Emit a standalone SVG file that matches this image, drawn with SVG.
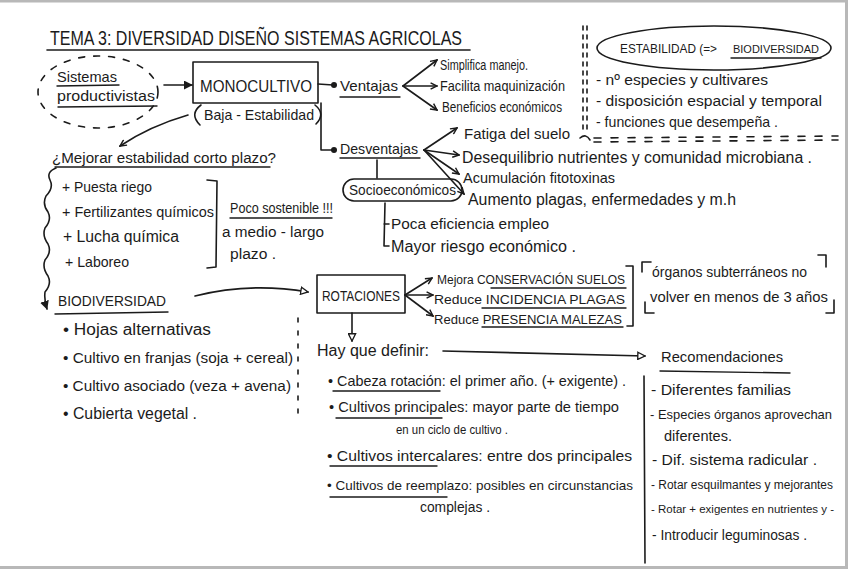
<svg xmlns="http://www.w3.org/2000/svg" width="848" height="569" viewBox="0 0 848 569" font-size="16">
<style>
.t{font-family:"Liberation Sans",Arial,sans-serif;fill:#1b1b1b}
.s{stroke:#1b1b1b;stroke-width:1.6;fill:none;stroke-linecap:round;stroke-linejoin:round}
.u{stroke:#1b1b1b;stroke-width:1.4;fill:none;stroke-linecap:round}
</style>
<defs>
<marker id="v" viewBox="0 0 10 10" refX="9" refY="5" markerWidth="8" markerHeight="8" orient="auto" markerUnits="userSpaceOnUse"><path d="M1,1 L9,5 L1,9" fill="none" stroke="#1b1b1b" stroke-width="1.8"/></marker>
<marker id="tri" viewBox="0 0 10 10" refX="9" refY="5" markerWidth="9" markerHeight="9" orient="auto" markerUnits="userSpaceOnUse"><path d="M1,1 L9,5 L1,9 Z" fill="#fff" stroke="#1b1b1b" stroke-width="1.5"/></marker>
<marker id="fil" viewBox="0 0 10 10" refX="9" refY="5" markerWidth="9" markerHeight="9" orient="auto" markerUnits="userSpaceOnUse"><path d="M0,0 L10,5 L0,10 Z" fill="#1b1b1b"/></marker>
</defs>
<rect width="848" height="569" fill="#fff"/>
<path d="M0,1 H848 M846.5,0 V569 M0,567.5 H848" stroke="#b8b8b8" stroke-width="3" fill="none"/>

<g id="title">
<text class="t" x="50" y="45" font-size="20" textLength="412" lengthAdjust="spacingAndGlyphs">TEMA 3: DIVERSIDAD DISEÑO SISTEMAS AGRICOLAS</text>
<path class="s" d="M47,50 L470,50" stroke-width="2"/>
</g>

<g id="sistemas">
<ellipse cx="98" cy="92" rx="60" ry="36" class="s" stroke-width="1.3" stroke-dasharray="6 9"/>
<text class="t" x="57" y="82" font-size="15" textLength="60" lengthAdjust="spacingAndGlyphs">Sistemas</text>
<path class="u" d="M57,86 L119,85"/>
<text class="t" x="57" y="101" font-size="15.5" textLength="98" lengthAdjust="spacingAndGlyphs">productivistas</text>
<path class="u" d="M58,107 L157,106"/>
</g>

<g id="monocultivo">
<rect x="193" y="62" width="125" height="41" class="s" stroke-width="1.8"/>
<text class="t" x="200" y="92" font-size="17" textLength="112" lengthAdjust="spacingAndGlyphs">MONOCULTIVO</text>
<path class="s" d="M201,105 Q189,114 200,125"/>
<text class="t" x="204" y="120" font-size="14.5" textLength="110" lengthAdjust="spacingAndGlyphs">Baja - Estabilidad</text>
<path class="s" d="M315,105 Q326,114 316,124"/>
</g>

<g id="ventajas">
<text class="t" x="340" y="91" font-size="15" textLength="58" lengthAdjust="spacingAndGlyphs">Ventajas</text>
<path class="u" d="M340,97 L400,97"/>
<text class="t" x="440" y="70" font-size="14" textLength="88" lengthAdjust="spacingAndGlyphs">Simplifica manejo.</text>
<text class="t" x="440" y="91" font-size="14" textLength="125" lengthAdjust="spacingAndGlyphs">Facilita maquinización</text>
<text class="t" x="442" y="112" font-size="14" textLength="120" lengthAdjust="spacingAndGlyphs">Beneficios económicos</text>
</g>

<g id="desventajas">
<text class="t" x="340" y="154" font-size="15" textLength="78" lengthAdjust="spacingAndGlyphs">Desventajas</text>
<path class="u" d="M340,158 L420,158"/>
<text class="t" x="464" y="139" font-size="15" textLength="106" lengthAdjust="spacingAndGlyphs">Fatiga del suelo</text>
<text class="t" x="462" y="163" textLength="350" lengthAdjust="spacingAndGlyphs">Desequilibrio nutrientes y comunidad microbiana .</text>
<text class="t" x="463" y="183" font-size="14.5" textLength="152" lengthAdjust="spacingAndGlyphs">Acumulación fitotoxinas</text>
<text class="t" x="468" y="205" textLength="268" lengthAdjust="spacingAndGlyphs">Aumento plagas, enfermedades y m.h</text>
</g>

<g id="socioeconomicos">
<rect x="343" y="179" width="119" height="22" rx="11" class="s" stroke-width="1.5"/>
<text class="t" x="349" y="195" font-size="14" textLength="107" lengthAdjust="spacingAndGlyphs">Socioeconómicos</text>
<path class="s" d="M385,203 L384,246 M384,224 L389,224 M384,246 L389,246" stroke-width="1.3"/>
<text class="t" x="391" y="229" font-size="15.5" textLength="158" lengthAdjust="spacingAndGlyphs">Poca eficiencia empleo</text>
<text class="t" x="391" y="252" textLength="185" lengthAdjust="spacingAndGlyphs">Mayor riesgo económico .</text>
</g>

<g id="mejorar">
<text class="t" x="52" y="163" font-size="15.5" textLength="224" lengthAdjust="spacingAndGlyphs">¿Mejorar estabilidad corto plazo?</text>
<path class="u" d="M55,167 L270,167"/>
<text class="t" x="62" y="192" font-size="14.5" textLength="90" lengthAdjust="spacingAndGlyphs">+ Puesta riego</text>
<text class="t" x="62" y="217" font-size="14.5" textLength="152" lengthAdjust="spacingAndGlyphs">+ Fertilizantes químicos</text>
<text class="t" x="63" y="242" textLength="116" lengthAdjust="spacingAndGlyphs">+ Lucha química</text>
<text class="t" x="65" y="267" font-size="14.5" textLength="64" lengthAdjust="spacingAndGlyphs">+ Laboreo</text>
<path class="s" d="M207,180 L217,181 L216,267 L207,268"/>
<text class="t" x="230" y="213" font-size="14" textLength="103" lengthAdjust="spacingAndGlyphs">Poco sostenible !!!</text>
<path class="u" d="M230,218 L332,218"/>
<text class="t" x="222" y="237" font-size="15.5" textLength="102" lengthAdjust="spacingAndGlyphs">a medio - largo</text>
<text class="t" x="230" y="259" font-size="15.5" textLength="46" lengthAdjust="spacingAndGlyphs">plazo .</text>
</g>

<g id="biodiversidad">
<text class="t" x="58" y="306" font-size="15" textLength="108" lengthAdjust="spacingAndGlyphs">BIODIVERSIDAD</text>
<path class="u" d="M55,314 L168,312"/>
<text class="t" x="63" y="335" textLength="148" lengthAdjust="spacingAndGlyphs">• Hojas alternativas</text>
<text class="t" x="63" y="363" font-size="15.3" textLength="230" lengthAdjust="spacingAndGlyphs">• Cultivo en franjas (soja + cereal)</text>
<text class="t" x="63" y="391" font-size="15.3" textLength="228" lengthAdjust="spacingAndGlyphs">• Cultivo asociado (veza + avena)</text>
<text class="t" x="63" y="419" textLength="134" lengthAdjust="spacingAndGlyphs">• Cubierta vegetal .</text>
</g>

<g id="rotaciones">
<rect x="317" y="275" width="88" height="38" class="s" stroke-width="1.8"/>
<text class="t" x="322" y="301" font-size="14" textLength="78" lengthAdjust="spacingAndGlyphs">ROTACIONES</text>
<text class="t" x="437" y="284" font-size="12.5" textLength="188" lengthAdjust="spacingAndGlyphs">Mejora CONSERVACIÓN SUELOS</text>
<path class="u" d="M491,288 L626,288"/>
<text class="t" x="434" y="304" font-size="12.5" textLength="191" lengthAdjust="spacingAndGlyphs">Reduce INCIDENCIA PLAGAS</text>
<path class="u" d="M482,308 L626,308"/>
<text class="t" x="434" y="324" font-size="12.5" textLength="188" lengthAdjust="spacingAndGlyphs">Reduce PRESENCIA MALEZAS</text>
<path class="u" d="M482,327 L623,327"/>
<path class="s" d="M626,266 L633,266 L633,326 L627,326" stroke-width="1.3"/>
</g>

<g id="organos">
<path class="s" d="M642,272 L642,262 L651,262 M818,255 L826,255 L826,267 M645,302 L645,313 L654,313 M834,300 L834,313 L826,313" stroke-width="1.3"/>
<text class="t" x="652" y="277" font-size="14" textLength="155" lengthAdjust="spacingAndGlyphs">órganos subterráneos no</text>
<text class="t" x="650" y="302" font-size="14.5" textLength="178" lengthAdjust="spacingAndGlyphs">volver en menos de 3 años</text>
</g>

<g id="definir">
<text class="t" x="317" y="356" textLength="112" lengthAdjust="spacingAndGlyphs">Hay que definir:</text>
<text class="t" x="328" y="386" font-size="14.4" textLength="298" lengthAdjust="spacingAndGlyphs">• Cabeza rotación: el primer año. (+ exigente) .</text>
<path class="u" d="M333,391 L440,391"/>
<text class="t" x="329" y="412" font-size="14.6" textLength="290" lengthAdjust="spacingAndGlyphs">• Cultivos principales: mayor parte de tiempo</text>
<path class="u" d="M336,418 L442,418"/>
<text class="t" x="396" y="434" font-size="12" textLength="112" lengthAdjust="spacingAndGlyphs">en un ciclo de cultivo .</text>
<text class="t" x="327" y="461" font-size="15.5" textLength="305" lengthAdjust="spacingAndGlyphs">• Cultivos intercalares: entre dos principales</text>
<path class="u" d="M330,466 L437,466"/>
<text class="t" x="327" y="490" font-size="13.4" textLength="306" lengthAdjust="spacingAndGlyphs">• Cultivos de reemplazo: posibles en circunstancias</text>
<path class="u" d="M330,497 L447,497"/>
<text class="t" x="420" y="512" font-size="14" textLength="70" lengthAdjust="spacingAndGlyphs">complejas .</text>
</g>

<g id="recomendaciones">
<text class="t" x="661" y="362" font-size="15" textLength="122" lengthAdjust="spacingAndGlyphs">Recomendaciones</text>
<path class="u" d="M660,371 L790,373"/>
<path class="s" d="M644,376 L645,563" stroke-width="1.4"/>
<text class="t" x="651" y="395" font-size="15.5" textLength="140" lengthAdjust="spacingAndGlyphs">- Diferentes familias</text>
<text class="t" x="650" y="419" font-size="13" textLength="182" lengthAdjust="spacingAndGlyphs">- Especies órganos aprovechan</text>
<text class="t" x="664" y="441" font-size="14.5" textLength="68" lengthAdjust="spacingAndGlyphs">diferentes.</text>
<text class="t" x="652" y="465" font-size="15.5" textLength="165" lengthAdjust="spacingAndGlyphs">- Dif. sistema radicular .</text>
<text class="t" x="651" y="489" font-size="12" textLength="182" lengthAdjust="spacingAndGlyphs">- Rotar esquilmantes y mejorantes</text>
<text class="t" x="651" y="513" font-size="11.5" textLength="183" lengthAdjust="spacingAndGlyphs">- Rotar + exigentes en nutrientes y -</text>
<text class="t" x="652" y="540" font-size="13.8" textLength="155" lengthAdjust="spacingAndGlyphs">- Introducir leguminosas .</text>
</g>

<g id="estabilidad">
<ellipse cx="714" cy="48" rx="117" ry="22" class="s" stroke-width="1.5"/>
<text class="t" x="620" y="53" font-size="12" textLength="97" lengthAdjust="spacingAndGlyphs">ESTABILIDAD (=&gt;</text>
<text class="t" x="733" y="53" font-size="11.5" textLength="86" lengthAdjust="spacingAndGlyphs">BIODIVERSIDAD</text>
<path class="u" d="M731,58 L821,58" stroke-width="2"/>
<text class="t" x="596" y="85" font-size="15.5" textLength="172" lengthAdjust="spacingAndGlyphs">- nº especies y cultivares</text>
<text class="t" x="596" y="106" font-size="15.5" textLength="226" lengthAdjust="spacingAndGlyphs">- disposición espacial y temporal</text>
<text class="t" x="596" y="127" font-size="14.5" textLength="182" lengthAdjust="spacingAndGlyphs">- funciones que desempeña .</text>
</g>

<g id="separators">
<path class="s" d="M583,26 L583,132 M587,26 L587,132" stroke-width="1.3" stroke-dasharray="4 5"/>
<path class="s" d="M580,138 Q586,133 590,140" stroke-width="1.4"/>
<path class="s" d="M594,138 L838,136 M594,142 L838,140" stroke-width="1.3" stroke-dasharray="7 10"/>
<path class="s" d="M298,318 L298,416" stroke-width="1.3" stroke-dasharray="4 9"/>
</g>

<g id="connectors">
<path class="s" d="M164,85 L192,85" stroke-width="2.2" marker-end="url(#fil)"/>
<path class="s" d="M318,84 L333,85"/>
<circle cx="334" cy="85" r="3" fill="#1b1b1b"/>
<path class="s" d="M321,103 L321,150 L333,150"/>
<circle cx="334" cy="150" r="3" fill="#1b1b1b"/>
<path class="s" d="M403,86 L437,60" marker-end="url(#v)"/>
<path class="s" d="M403,86 L437,86" marker-end="url(#v)"/>
<path class="s" d="M403,86 L437,110" marker-end="url(#v)"/>
<path class="s" d="M424,150 L457,128" marker-end="url(#v)"/>
<path class="s" d="M424,150 L459,155" marker-end="url(#v)"/>
<path class="s" d="M424,150 L459,174" marker-end="url(#v)"/>
<path class="s" d="M424,150 L464,194" marker-end="url(#v)"/>
<path class="s" d="M377,160 L377,178"/>
<path class="s" d="M188,115 Q150,126 120,146" marker-end="url(#v)"/>
<path class="s" d="M56,168 Q46,172 50,180 Q54,188 46,196 Q42,204 48,212 Q52,220 45,228 Q42,236 48,244 Q52,252 45,260 Q42,268 48,276 Q52,284 45,292 Q44,300 47,309" marker-end="url(#fil)"/>
<path class="s" d="M195,296 Q250,282 308,292" marker-end="url(#tri)"/>
<path class="s" d="M405,295 L432,278" marker-end="url(#v)"/>
<path class="s" d="M405,295 L433,295" marker-end="url(#v)"/>
<path class="s" d="M405,295 L433,316" marker-end="url(#v)"/>
<path class="s" d="M352,313 L352,341" marker-end="url(#tri)"/>
<path class="s" d="M443,351 L645,356" marker-end="url(#tri)"/>
</g>
</svg>
